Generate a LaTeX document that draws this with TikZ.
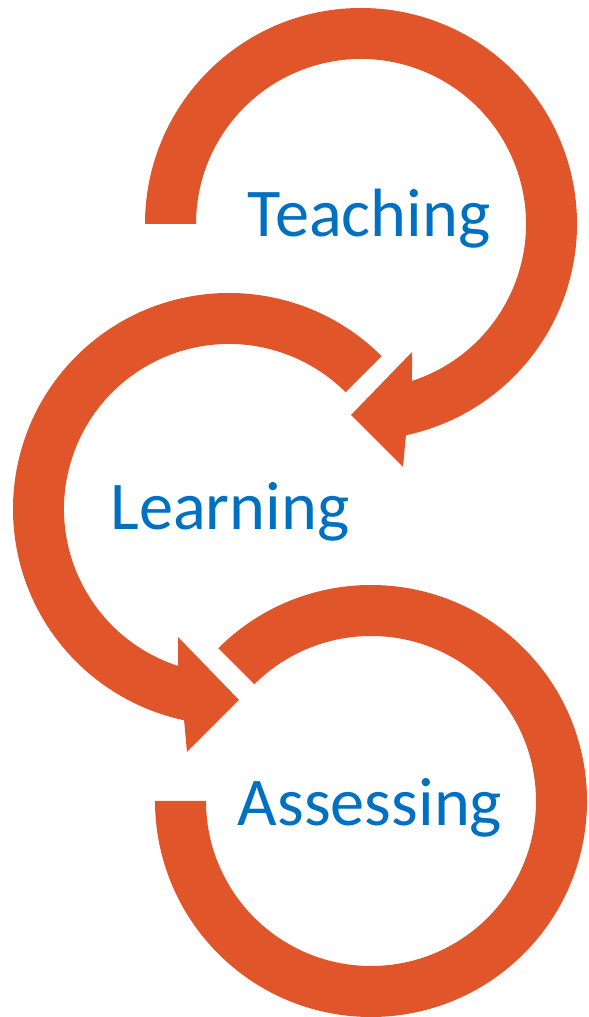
\documentclass[tikz,border=0pt]{standalone}
\usepackage{fontspec}
\setmainfont{Carlito}
\usepackage{tikz}
\definecolor{arroworange}{RGB}{224,85,41}
\definecolor{textblue}{RGB}{0,112,192}
\tikzset{
  band/.style={fill=arroworange, draw=none},
  lbl/.style={text=textblue, font=\fontsize{38.9pt}{46pt}\selectfont, inner sep=0pt, anchor=base}
}
\begin{document}
\begin{tikzpicture}[x=0.02cm, y=0.02cm]
  \useasboundingbox (0, 0) rectangle (588, 1017);
  \coordinate (c1) at (361, 793);
  \coordinate (c2) at (229, 508);
  \coordinate (c3) at (371, 216);
  % top loop, head points down to Learning
  \fill[band, shift={(c1)}] (180:216) arc (180:-78:216)
    -- (42, -243) -- (-10, -191) -- (51, -128) -- (-72:165)
    arc (-72:180:165) -- cycle;
  % middle loop, head points to Assessing
  \fill[band, shift={(c2)}] (45:216) arc (45:258:216)
    -- (-42, -243) -- (10, -191) -- (-51, -128) -- (252:165)
    arc (252:45:165) -- cycle;
  % bottom loop, plain end
  \fill[band, shift={(c3)}] (135:216) arc (135:-180:216)
    -- (-180:165) arc (-180:135:165) -- cycle;
  \node[lbl] (teach) at (369, 780) {Teaching};
  \node[lbl] (learn) at (230, 487) {Learning};
  \node[lbl] (assess) at (370, 191) {Assessing};
\end{tikzpicture}
\end{document}
